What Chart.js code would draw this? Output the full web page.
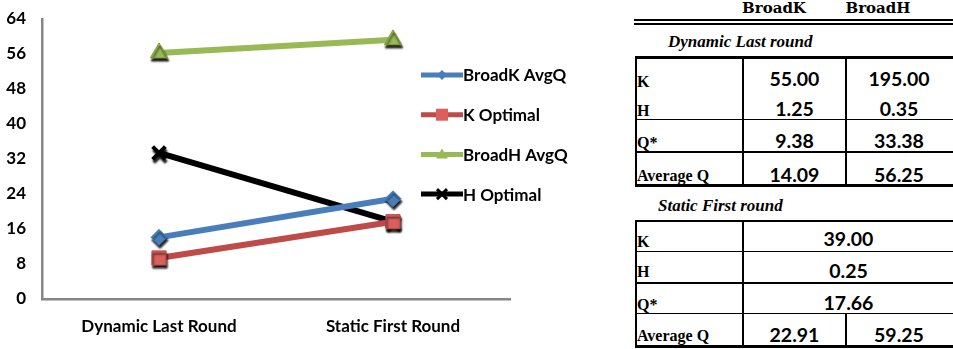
<!DOCTYPE html>
<html>
<head>
<meta charset="utf-8">
<script src="https://cdn.jsdelivr.net/npm/chart.js"></script>
<style>
  html, body { margin: 0; padding: 0; background: #fff; }
  #wrap { position: relative; width: 953px; height: 349px; overflow: hidden; }
  #chart { position: absolute; left: 0; top: 0; }
  .t { position: absolute; white-space: nowrap; color: #000; line-height: 1; }
  .serif { font-family: "Liberation Serif", "DejaVu Serif", serif; font-weight: bold; }
  .lbl { font-size: 16px; transform: translateY(-50%); }
  .hdr { font-family: "DejaVu Serif", serif; font-size: 15px; transform: translate(-50%, -50%); }
  .sec { font-size: 17px; font-style: italic; transform: translateY(-50%); }
  .num { font-family: Lato, "Open Sans", sans-serif; font-weight: bold; font-size: 19.5px; transform: translate(-50%, -50%); }
  .ln { position: absolute; background: #000; }
</style>
</head>
<body>
<div id="wrap">
  <canvas id="chart" width="630" height="349"></canvas>
  <div id="table"></div>
</div>
<script>
// Rounds shown on the x axis
const rounds = ['Dynamic Last Round', 'Static First Round'];

// Parameter table: columns and row labels
const tableColumns = ['BroadK', 'BroadH'];
const rowLabels = ['K', 'H', 'Q*', 'Average Q'];

// Dynamic last round (BroadK, BroadH)
const dynamicK = [55.00, 195.00];
const dynamicH = [1.25, 0.35];
const dynamicQStar = [9.38, 33.38];
const dynamicAvgQ = [14.09, 56.25];

// Static first round (K, H and Q* shared by both groups)
const staticK = 39.00;
const staticH = 0.25;
const staticQStar = 17.66;
const staticAvgQ = [22.91, 59.25];

// Series plotted per round
const broadKAvgQ = [dynamicAvgQ[0], staticAvgQ[0]];
const kOptimal = [dynamicQStar[0], staticQStar];
const broadHAvgQ = [dynamicAvgQ[1], staticAvgQ[1]];
const hOptimal = [dynamicQStar[1], staticQStar];

// Y axis range
const yMin = 0, yMax = 64, yStep = 8;

const FONT = 'Lato, "Open Sans", sans-serif';

// Soft dark shadow under each marker
const pointShadow = {
  id: 'pointShadow',
  beforeDatasetDraw(chart, args) {
    args.meta.data.forEach(pt => {
      if (pt.$shadowed) return;
      const draw = pt.draw;
      pt.draw = function (ctx, area) {
        ctx.save();
        ctx.shadowColor = 'rgba(0,0,0,0.9)';
        ctx.shadowBlur = 2;
        ctx.shadowOffsetX = 1;
        ctx.shadowOffsetY = 3;
        draw.call(this, ctx, area);
        ctx.restore();
      };
      pt.$shadowed = true;
    });
  }
};

function drawMarker(ctx, style, x, y, r, fill, stroke) {
  ctx.save();
  ctx.fillStyle = fill;
  ctx.strokeStyle = stroke;
  ctx.beginPath();
  if (style === 'rectRot') {
    ctx.moveTo(x, y - r); ctx.lineTo(x + r, y); ctx.lineTo(x, y + r); ctx.lineTo(x - r, y); ctx.closePath(); ctx.fill();
  } else if (style === 'rect') {
    ctx.rect(x - r, y - r, 2 * r, 2 * r); ctx.fill();
  } else if (style === 'triangle') {
    ctx.moveTo(x, y - r); ctx.lineTo(x + r, y + r * 0.7); ctx.lineTo(x - r, y + r * 0.7); ctx.closePath(); ctx.fill();
  } else if (style === 'crossRot') {
    ctx.lineWidth = 3;
    ctx.moveTo(x - r, y - r); ctx.lineTo(x + r, y + r);
    ctx.moveTo(x + r, y - r); ctx.lineTo(x - r, y + r); ctx.stroke();
  }
  ctx.restore();
}

// Legend to the right of the plot: line sample with marker, then label
const sideLegend = {
  id: 'sideLegend',
  afterDraw(chart) {
    const ctx = chart.ctx;
    const x0 = 421, x1 = 463, y0 = 75, gap = 39.7;
    chart.data.datasets.forEach((ds, i) => {
      const y = y0 + i * gap;
      ctx.save();
      ctx.strokeStyle = ds.borderColor;
      ctx.lineWidth = 5;
      ctx.beginPath(); ctx.moveTo(x0, y); ctx.lineTo(x1, y); ctx.stroke();
      drawMarker(ctx, ds.pointStyle, (x0 + x1) / 2, y, ds.legendMarker, ds.pointBackgroundColor, ds.borderColor);
      ctx.fillStyle = '#000';
      ctx.font = 'bold 17px ' + FONT;
      ctx.textBaseline = 'middle';
      ctx.textAlign = 'left';
      ctx.fillText(ds.label, x1, y + 1);
      ctx.restore();
    });
  }
};

// Keep the plot area fixed regardless of label overhang
function noOverhang(s) {
  s.paddingTop = 0; s.paddingBottom = 0; s.paddingLeft = 0; s.paddingRight = 0;
}

new Chart(document.getElementById('chart'), {
  type: 'line',
  data: {
    labels: rounds,
    datasets: [
      { label: 'BroadK AvgQ', data: broadKAvgQ, borderColor: '#4a7ebb', pointBackgroundColor: '#4a7ebb', pointBorderColor: '#4a7ebb',
        pointStyle: 'rectRot', pointRadius: 8, legendMarker: 5 },
      { label: 'K Optimal', data: kOptimal, borderColor: '#be4b48', pointBackgroundColor: '#d9605c', pointBorderColor: '#be4b48',
        pointStyle: 'rect', pointRadius: 10, legendMarker: 6 },
      { label: 'BroadH AvgQ', data: broadHAvgQ, borderColor: '#98b954', pointBackgroundColor: '#98b954', pointBorderColor: '#7f9f3c',
        pointStyle: 'triangle', pointRadius: 10, legendMarker: 6 },
      { label: 'H Optimal', data: hOptimal, borderColor: '#000000', pointBackgroundColor: '#000000', pointBorderColor: '#000000',
        pointStyle: 'crossRot', pointRadius: 9, pointBorderWidth: 4, legendMarker: 5 }
    ]
  },
  options: {
    responsive: false,
    animation: false,
    events: [],
    layout: { padding: { top: 19, right: 120, bottom: 0, left: 0 } },
    elements: {
      line: { borderWidth: 6, tension: 0 },
      point: { borderWidth: 1 }
    },
    plugins: { legend: { display: false }, tooltip: { enabled: false } },
    scales: {
      x: {
        offset: true,
        grid: { display: false, drawTicks: false },
        border: { display: true, color: '#868686', width: 2.5 },
        ticks: { color: '#000', font: { family: FONT, size: 17, weight: 'bold' }, padding: 17 },
        afterFit(s) { s.height = 50; noOverhang(s); }
      },
      y: {
        min: yMin, max: yMax,
        grid: { display: false, drawTicks: false },
        border: { display: true, color: '#868686', width: 2.5 },
        ticks: { stepSize: yStep, color: '#000', font: { family: FONT, size: 17, weight: 'bold' }, padding: 16 },
        afterFit(s) { s.width = 42; noOverhang(s); }
      }
    }
  },
  plugins: [pointShadow, sideLegend]
});

// Parameter table drawn beside the chart
(function buildTable() {
  const host = document.getElementById('table');
  const fmt = v => v.toFixed(2);
  const add = (cls, text, x, y) => {
    const d = document.createElement('div');
    d.className = 't ' + cls;
    d.textContent = text;
    d.style.left = x + 'px';
    d.style.top = y + 'px';
    host.appendChild(d);
  };
  const line = (x, y, w, h) => {
    const d = document.createElement('div');
    d.className = 'ln';
    d.style.left = x + 'px'; d.style.top = y + 'px';
    d.style.width = w + 'px'; d.style.height = h + 'px';
    host.appendChild(d);
  };
  const L = 635, C1 = 742, C2 = 845, R = 953;
  const mid1 = (C1 + C2) / 2 + 1, mid2 = (C2 + R) / 2, midAll = (C1 + R) / 2 + 1;

  // header
  add('serif hdr', tableColumns[0], 774, 8);
  add('serif hdr', tableColumns[1], 878, 8);
  line(634, 19, R - 634, 2);
  line(634, 22.5, R - 634, 2);

  // dynamic last round
  add('serif sec', 'Dynamic Last round', 668, 41);
  line(L, 56, R - L, 2.5);
  line(L, 56, 2, 131);
  line(C1, 56, 2, 131);
  line(C2, 56, 2, 131);
  line(L, 118.5, R - L, 1.5);
  line(L, 151, R - L, 1.5);
  line(L, 183.5, R - L, 3);
  const dynRows = [[dynamicK, 82, 79], [dynamicH, 111, 109], [dynamicQStar, 143, 141], [dynamicAvgQ, 176, 175]];
  dynRows.forEach((r, i) => {
    add('serif lbl', rowLabels[i], 637, r[1]);
    add('num', fmt(r[0][0]), mid1, r[2]);
    add('num', fmt(r[0][1]), mid2, r[2]);
  });

  // static first round
  add('serif sec', 'Static First round', 658, 205);
  line(L, 219.5, R - L, 2.5);
  line(L, 219.5, 2, 128);
  line(C1, 219.5, 2, 128);
  line(C2, 313, 2, 34);
  line(L, 250.5, R - L, 1.5);
  line(L, 282, R - L, 1.5);
  line(L, 312.5, R - L, 1.5);
  line(L, 344.5, R - L, 3);
  const statRows = [[staticK, 242, 239], [staticH, 272, 271], [staticQStar, 305, 303]];
  statRows.forEach((r, i) => {
    add('serif lbl', rowLabels[i], 637, r[1]);
    add('num', fmt(r[0]), midAll, r[2]);
  });
  add('serif lbl', rowLabels[3], 637, 336);
  add('num', fmt(staticAvgQ[0]), mid1, 335);
  add('num', fmt(staticAvgQ[1]), mid2, 335);
})();
</script>
</body>
</html>
